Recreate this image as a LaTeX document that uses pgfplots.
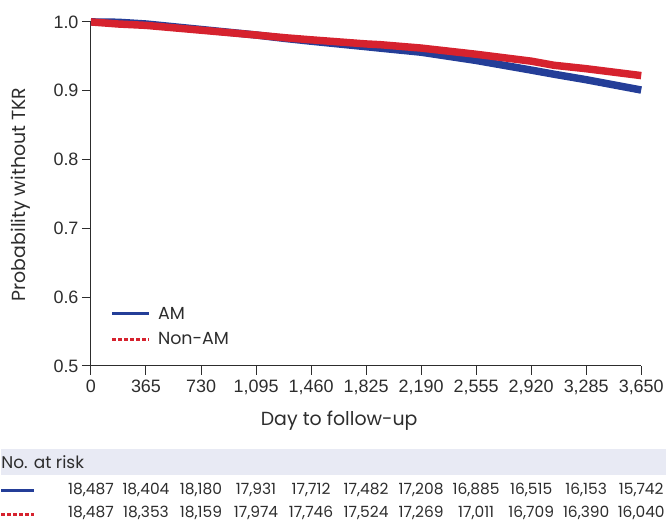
\documentclass[border=0pt]{standalone}
\usepackage{pgfplots}
\pgfplotsset{compat=1.18}
\usepackage{fontspec}
\setmainfont{Liberation Sans}
\newfontfamily\labelfont{Poppins}
\definecolor{amBlue}{RGB}{36,62,152}
\definecolor{nonRed}{RGB}{214,34,46}
\definecolor{txt}{RGB}{45,45,45}
\definecolor{riskBand}{RGB}{232,234,244}

% KM estimates: day, survival
\pgfplotstableread{
day   s
0     1.000
180   0.9995
365   0.997
730   0.989
1095  0.981
1288  0.976
1460  0.972
1825  0.964
1915  0.962
2190  0.956
2555  0.944
2920  0.930
3071  0.924
3285  0.916
3650  0.901
}\amdata
\pgfplotstableread{
day   s
0     1.000
180   0.997
365   0.995
730   0.988
1095  0.981
1288  0.977
1460  0.974
1825  0.968
1915  0.967
2190  0.962
2555  0.953
2920  0.943
3071  0.937
3285  0.932
3650  0.922
}\nonamdata

\begin{document}
\begin{tikzpicture}[x=1pt,y=1pt]
\path (0,0) rectangle (667,-526);
\fill[riskBand] (0,-450) rectangle (667,-477);
\begin{axis}[
  at={(90pt,-367pt)}, anchor=south west,
  scale only axis, width=552pt, height=345pt,
  xmin=0, xmax=3650, ymin=0.5, ymax=1.0,
  axis x line*=bottom, axis y line*=left,
  axis line style={txt, line width=1pt},
  xtick={0,365,...,3650},
  ytick={0.5,0.6,...,1.0},
  tick align=outside, major tick length=9pt,
  tick style={txt, line width=1pt},
  /pgf/number format/assume math mode=true,
  /pgf/number format/1000 sep={,},
  yticklabel style={/pgf/number format/fixed, /pgf/number format/fixed zerofill, /pgf/number format/precision=1},
  ticklabel style={font=\fontsize{18}{20}\selectfont, text=txt},
  xticklabel style={yshift=-2pt},
  clip=false,
  legend style={at={(0.03,0.183)}, anchor=north west, draw=none, fill=none,
    font=\labelfont\fontsize{17.5}{20}\selectfont, text=txt, row sep=8pt},
  legend cell align=left,
  legend image code/.code={\draw[line width=3pt, #1] (0pt,0pt) -- (37pt,0pt); \path[draw=none] (0pt,0pt) -- (44pt,0pt);},
]
  \addlegendimage{amBlue}
  \addlegendimage{nonRed, dash pattern=on 4pt off 2pt}
  \addplot[amBlue, line width=7.5pt, line join=round, forget plot] table[x=day, y=s] {\amdata};
  \addplot[nonRed, line width=7.5pt, line join=round, forget plot] table[x=day, y=s] {\nonamdata};
  \legend{AM, Non-AM}
\end{axis}
\node[rotate=90, text=txt, font=\labelfont\fontsize{19}{22}\selectfont] at (20,-195) {Probability without TKR};
\node[text=txt, font=\labelfont\fontsize{19}{22}\selectfont] at (339,-422) {Day to follow-up};
\node[anchor=west, inner sep=0pt, text=txt, font=\labelfont\fontsize{17}{19}\selectfont] at (0,-464) {No. at risk};
\draw[amBlue, line width=2.5pt] (0,-492) -- (33,-492);
\draw[nonRed, line width=2.5pt, dash pattern=on 4pt off 2pt] (0,-516) -- (33,-516);
\foreach \d/\a/\b in {0/{18,487}/{18,487}, 365/{18,404}/{18,353}, 730/{18,180}/{18,159},
  1095/{17,931}/{17,974}, 1460/{17,712}/{17,746}, 1825/{17,482}/{17,524},
  2190/{17,208}/{17,269}, 2555/{16,885}/{17,011}, 2920/{16,515}/{16,709},
  3285/{16,153}/{16,390}, 3650/{15,742}/{16,040}} {
  \pgfmathsetmacro{\px}{90+\d/3650*552}
  \node[text=txt, inner sep=0pt, font=\labelfont\fontsize{15.5}{17}\selectfont] at (\px,-491) {\a};
  \node[text=txt, inner sep=0pt, font=\labelfont\fontsize{15.5}{17}\selectfont] at (\px,-515) {\b};
}
\end{tikzpicture}
\end{document}
